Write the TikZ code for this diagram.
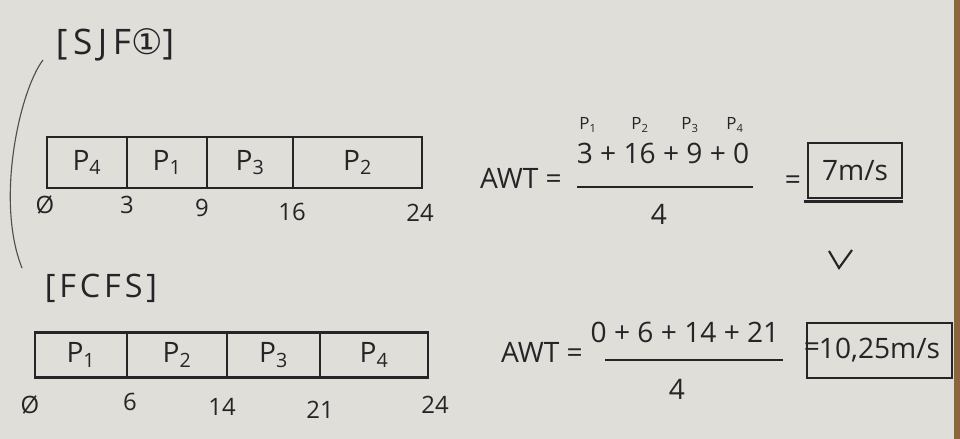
\documentclass[tikz,border=0pt]{standalone}
\usepackage{fontspec}
\setmainfont{Open Sans}
\newfontfamily\symbfont{DejaVu Sans}
\usetikzlibrary{positioning}
\definecolor{paper}{RGB}{224,222,217}
\definecolor{ink}{RGB}{38,36,38}
\definecolor{pencil}{RGB}{80,78,80}
\definecolor{desk}{RGB}{140,100,62}
\tikzset{%
  hand/.style   = {text=ink, font=\fontsize{20}{24}\selectfont, inner sep=0pt},%
  title/.style  = {hand, font=\fontsize{23}{27}\selectfont\addfontfeatures{LetterSpace=12}},%
  cell/.style   = {hand, draw=ink, line width=1.7pt, outer sep=0pt,%
                   anchor=west},%
  tick/.style   = {hand, font=\fontsize{17}{20}\selectfont},%
  proc/.style   = {hand, font=\fontsize{12}{14}\selectfont},%
  answer/.style = {hand, draw=ink, line width=1.7pt, minimum height=1.375cm}%
}

\begin{document}
\begin{tikzpicture}[x=0.025cm, y=-0.025cm]
  \fill[paper] (0,0) rectangle (960,439);
  \fill[desk] (954,0) rectangle (960,439);
  \useasboundingbox (0,0) rectangle (960,439);
  % -------------- SJF -----------------------------
  \node[title, font=\fontsize{25}{29}\selectfont\addfontfeatures{LetterSpace=16}] (sjf) at (115,45) {[SJF{\symbfont ①}]};
  \draw[pencil, line width=0.8pt] (43,60) .. controls (20,90) and (-5,200) .. (22,268);
  \node[cell, minimum width=2cm,     minimum height=1.275cm] (sjf1) at (47,162.5) {P\textsubscript{4}};
  \node[cell, minimum width=2cm,     minimum height=1.275cm, right=0pt of sjf1] (sjf2) {P\textsubscript{1}};
  \node[cell, minimum width=2.15cm,  minimum height=1.275cm, right=0pt of sjf2] (sjf3) {P\textsubscript{3}};
  \node[cell, minimum width=3.225cm, minimum height=1.275cm, right=0pt of sjf3] (sjf4) {P\textsubscript{2}};
  \node[tick] (sjf-t0) at (45,205) {Ø};
  \node[tick] (sjf-t1) at (127,205) {3};
  \node[tick] (sjf-t2) at (202,208) {9};
  \node[tick] (sjf-t3) at (292,212) {16};
  \node[tick] (sjf-t4) at (420,213) {24};
  % AWT
  \node[hand] (awtA) at (521,178) {AWT =};
  \node[proc] (awtA-p1) at (588,125) {P\textsubscript{1}};
  \node[proc] (awtA-p2) at (640,125) {P\textsubscript{2}};
  \node[proc] (awtA-p3) at (690,125) {P\textsubscript{3}};
  \node[proc] (awtA-p4) at (735,125) {P\textsubscript{4}};
  \node[hand] (numA) at (663,153) {3 + 16 + 9 + 0};
  \draw[ink, line width=1.7pt] (577,187) -- (753,187);
  \node[hand] (denA) at (659,214) {4};
  \node[hand] (eqA) at (793,183) {=};
  \node[answer, minimum width=2.35cm] (ansA) at (855,170.5) {7m/s};
  \draw[ink, line width=1.7pt] ([xshift=-0.08cm, yshift=-0.06cm]ansA.south west)
    -- ([yshift=-0.06cm]ansA.south east);
  \draw[ink, line width=1.5pt] (829,251) -- (839,268) -- (852,250);
  % -------------- FCFS -----------------------------
  \node[title] (fcfs) at (101,288) {[FCFS]};
  \node[cell, minimum width=2.3cm,   minimum height=1.125cm] (fcfs1) at (35,355) {P\textsubscript{1}};
  \node[cell, minimum width=2.5cm,   minimum height=1.125cm, right=0pt of fcfs1] (fcfs2) {P\textsubscript{2}};
  \node[cell, minimum width=2.325cm, minimum height=1.125cm, right=0pt of fcfs2] (fcfs3) {P\textsubscript{3}};
  \node[cell, minimum width=2.7cm,   minimum height=1.125cm, right=0pt of fcfs3] (fcfs4) {P\textsubscript{4}};
  \node[tick] (fcfs-t0) at (30,405) {Ø};
  \node[tick] (fcfs-t1) at (130,402) {6};
  \node[tick] (fcfs-t2) at (222,407) {14};
  \node[tick] (fcfs-t3) at (320,410) {21};
  \node[tick] (fcfs-t4) at (435,405) {24};
  % AWT
  \node[hand] (awtB) at (542,352) {AWT =};
  \node[hand] (numB) at (685,332) {0 + 6 + 14 + 21};
  \draw[ink, line width=1.7pt] (605,360) -- (783,360);
  \node[hand] (denB) at (677,389) {4};
  \node[hand] (eqB) at (812,350) {=};
  \node[answer, minimum width=3.625cm] (ansB) at (879.5,350.5) {10,25m/s};
\end{tikzpicture}
\end{document}
